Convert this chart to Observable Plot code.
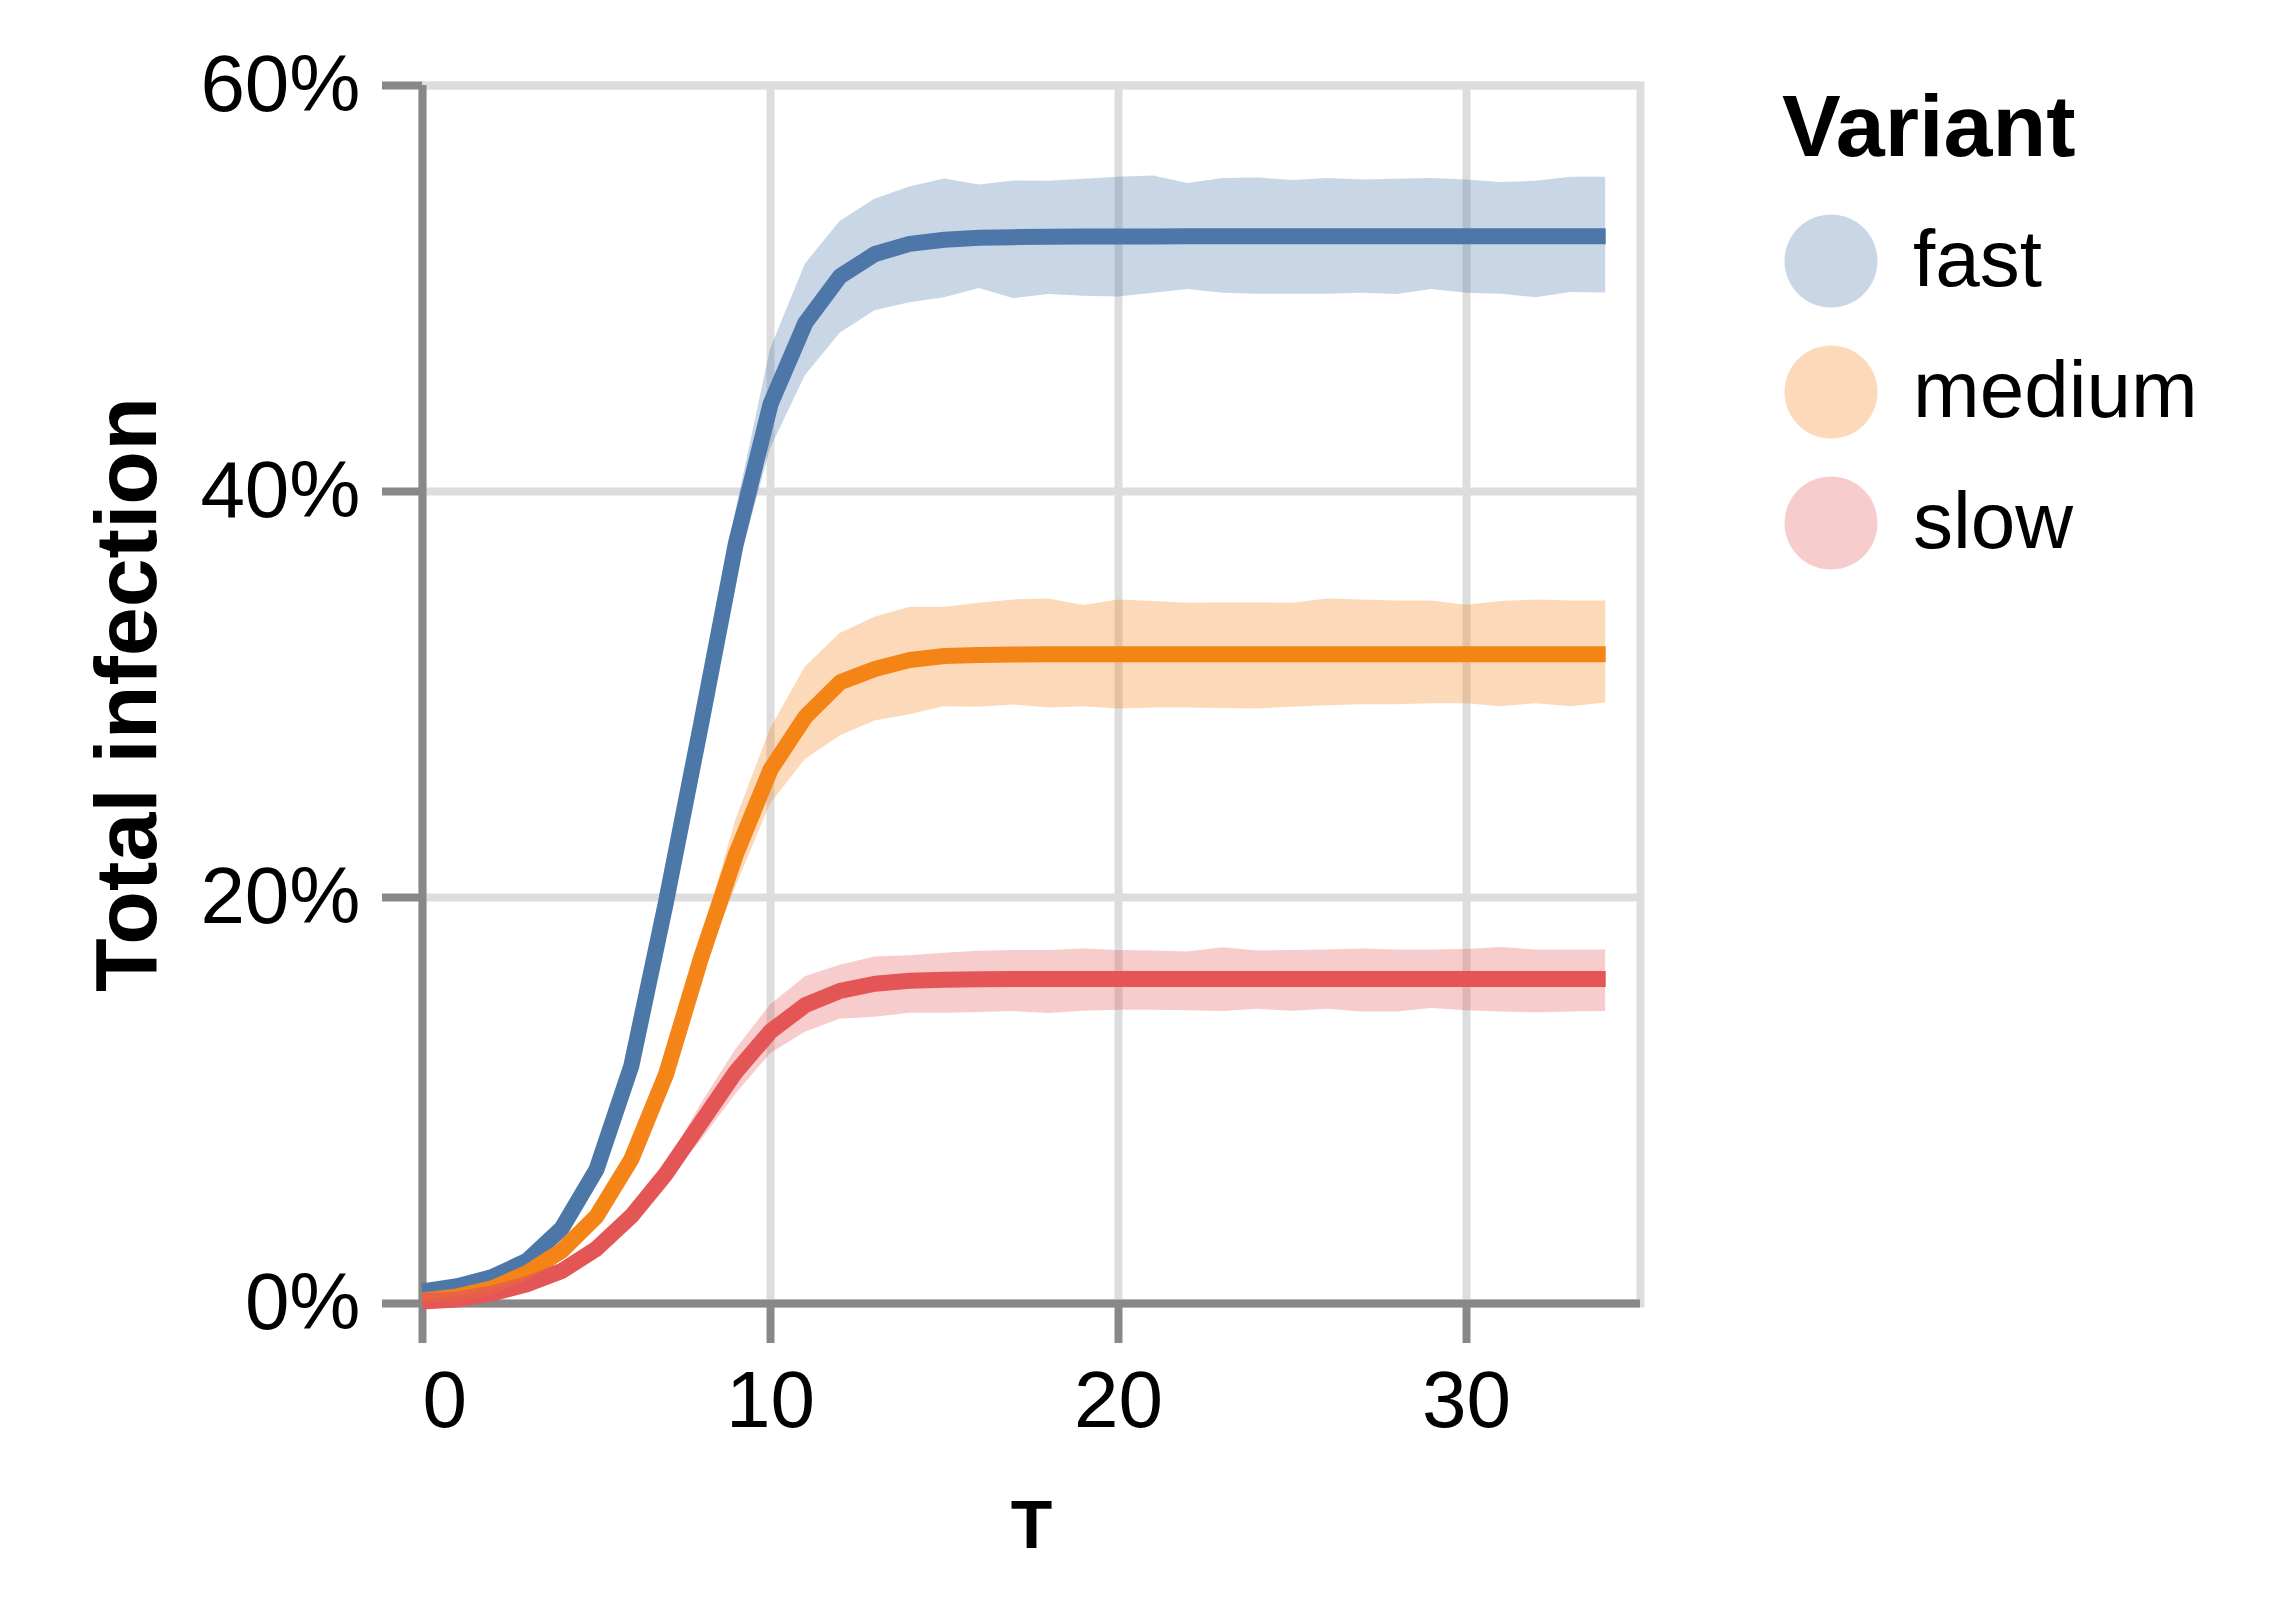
<!DOCTYPE html>
<html>
<head>
<meta charset="utf-8">
<script src="https://cdn.jsdelivr.net/npm/d3@7"></script>
<script src="https://cdn.jsdelivr.net/npm/@observablehq/plot@0.6"></script>
<style>
  html, body { margin: 0; padding: 0; background: #fff; }
  #wrap { position: relative; width: 2275px; height: 1600px; font-family: "Liberation Sans", Arial, sans-serif; }
</style>
</head>
<body>
<div id="wrap"></div>
<script>
// ---------- data ----------
const variants = ["fast", "medium", "slow"];
const colors = ["#4c78a8", "#f58518", "#e45756"];
const legendTitle = "Variant";
const xTitle = "T";
const yTitle = "Total infection";
const xTicks = [0, 10, 20, 30];
const yTicks = [0, 0.2, 0.4, 0.6];

const T = [0,1,2,3,4,5,6,7,8,9,10,11,12,13,14,15,16,17,18,19,20,21,22,23,24,25,26,27,28,29,30,31,32,33,34];

const fastMean = [0.006,0.0085,0.013,0.021,0.037,0.066,0.117,0.198,0.285,0.374,0.443,0.483,0.506,0.517,0.522,0.524,0.525,0.5253,0.5255,0.5256,0.5256,0.5256,0.5257,0.5257,0.5257,0.5257,0.5257,0.5257,0.5257,0.5257,0.5257,0.5257,0.5257,0.5257,0.5257];
const fastHi   = [0.0075,0.010,0.0145,0.023,0.039,0.069,0.121,0.202,0.290,0.390,0.470,0.512,0.533,0.544,0.550,0.554,0.551,0.553,0.5528,0.5538,0.5548,0.5554,0.5517,0.5542,0.5544,0.5532,0.5542,0.5534,0.5538,0.5542,0.5534,0.5522,0.5528,0.5548,0.5548];
const fastLo   = [0.0045,0.007,0.0115,0.019,0.035,0.063,0.113,0.194,0.280,0.358,0.421,0.457,0.478,0.489,0.493,0.4955,0.500,0.495,0.497,0.4962,0.4958,0.4976,0.4995,0.4976,0.4972,0.4972,0.4972,0.4976,0.4970,0.4995,0.4976,0.4972,0.4954,0.4980,0.4978];

const mediumMean = [0.0016,0.0035,0.0075,0.015,0.026,0.043,0.071,0.113,0.170,0.221,0.263,0.289,0.306,0.3126,0.317,0.319,0.3195,0.3197,0.3198,0.3198,0.3198,0.3198,0.3198,0.3198,0.3198,0.3198,0.3198,0.3198,0.3198,0.3198,0.3198,0.3198,0.3198,0.3198,0.3198];
const mediumHi   = [0.004,0.006,0.011,0.019,0.030,0.047,0.076,0.118,0.178,0.238,0.283,0.3136,0.330,0.338,0.343,0.343,0.345,0.3466,0.3471,0.3438,0.3465,0.3458,0.3450,0.3452,0.3452,0.3450,0.3471,0.3465,0.3461,0.3461,0.3440,0.3458,0.3465,0.3461,0.3461];
const mediumLo   = [0.000,0.001,0.004,0.011,0.022,0.039,0.066,0.108,0.162,0.205,0.246,0.268,0.2796,0.287,0.290,0.294,0.2937,0.2948,0.2933,0.2940,0.2929,0.2933,0.2933,0.2931,0.2929,0.2937,0.2944,0.2950,0.2950,0.2954,0.2954,0.2940,0.2954,0.2940,0.2958];

const slowMean = [0.001,0.002,0.005,0.0095,0.016,0.027,0.043,0.064,0.089,0.114,0.134,0.147,0.154,0.1575,0.159,0.1595,0.1597,0.1598,0.1598,0.1598,0.1598,0.1598,0.1598,0.1598,0.1598,0.1598,0.1598,0.1598,0.1598,0.1598,0.1598,0.1598,0.1598,0.1598,0.1598];
const slowHi   = [0.002,0.0035,0.007,0.012,0.019,0.031,0.048,0.068,0.098,0.125,0.147,0.161,0.1666,0.1707,0.1713,0.1725,0.1735,0.1739,0.1739,0.1746,0.1739,0.1737,0.1731,0.1752,0.1737,0.1739,0.1741,0.1746,0.1741,0.1741,0.1744,0.1754,0.1741,0.1741,0.1741];
const slowLo   = [0.000,0.0008,0.003,0.007,0.013,0.023,0.038,0.060,0.080,0.103,0.123,0.1336,0.140,0.141,0.143,0.143,0.1434,0.1438,0.1428,0.1440,0.1445,0.1445,0.1442,0.1438,0.1449,0.1440,0.1449,0.1436,0.1436,0.1453,0.1442,0.1436,0.1432,0.1436,0.1438];

// ---------- table ----------
const series = {
  fast:   {mean: fastMean,   hi: fastHi,   lo: fastLo},
  medium: {mean: mediumMean, hi: mediumHi, lo: mediumLo},
  slow:   {mean: slowMean,   hi: slowHi,   lo: slowLo}
};
const rows = [];
for (const v of variants) {
  T.forEach((t, i) => rows.push({T: t, variant: v, mean: series[v].mean[i], hi: series[v].hi[i], lo: series[v].lo[i]}));
}

const FONT = '"Liberation Sans", Arial, Helvetica, sans-serif';
const AXIS = "#888";
const GRID = "#ddd";
const pct = d3.format(".0%");

const chart = Plot.plot({
  width: 2275,
  height: 1600,
  marginLeft: 422,
  marginRight: 635,
  marginTop: 85,
  marginBottom: 297,
  style: {fontFamily: FONT, background: "white", color: "black"},
  x: {domain: [0, 35], axis: null, label: null},
  y: {domain: [0, 0.6], axis: null, label: null},
  color: {domain: variants, range: colors},
  marks: [
    Plot.gridX(xTicks, {stroke: GRID, strokeOpacity: 1, strokeWidth: 8}),
    Plot.gridY(yTicks, {stroke: GRID, strokeOpacity: 1, strokeWidth: 8}),
    Plot.frame({stroke: GRID, strokeWidth: 8}),
    Plot.axisX(xTicks, {tickSize: 40, stroke: AXIS, strokeWidth: 8, tickFormat: () => "", label: null}),
    Plot.axisY(yTicks, {tickSize: 40, stroke: AXIS, strokeWidth: 8, tickFormat: () => "", label: null}),
    Plot.ruleX([0], {stroke: AXIS, strokeWidth: 8}),
    Plot.ruleY([0], {stroke: AXIS, strokeWidth: 8}),
    // tick labels
    Plot.text(xTicks.slice(0, 1), {x: d => d, frameAnchor: "bottom", textAnchor: "start", lineAnchor: "bottom", dy: 123, fontSize: 80, text: d => String(d), fill: "black"}),
    Plot.text(xTicks.slice(1), {x: d => d, frameAnchor: "bottom", textAnchor: "middle", lineAnchor: "bottom", dy: 123, fontSize: 80, text: d => String(d), fill: "black"}),
    Plot.text(yTicks, {y: d => d, frameAnchor: "left", textAnchor: "end", lineAnchor: "middle", dx: -62, fontSize: 80, text: d => pct(d), fill: "black"}),
    // axis titles
    Plot.text([xTitle], {frameAnchor: "bottom", textAnchor: "middle", lineAnchor: "bottom", dy: 244, fontSize: 68, fontWeight: "bold", text: d => d, fill: "black"}),
    Plot.text([yTitle], {frameAnchor: "left", textAnchor: "middle", lineAnchor: "bottom", rotate: -90, dx: -267, fontSize: 88, fontWeight: "bold", text: d => d, fill: "black"}),
    // data
    Plot.line(rows, {x: "T", y: "mean", z: "variant", stroke: "variant", strokeWidth: 16, strokeLinecap: "butt", strokeLinejoin: "miter", curve: "linear"}),
    Plot.areaY(rows, {x: "T", y1: "lo", y2: "hi", z: "variant", fill: "variant", fillOpacity: 0.3, curve: "linear"})
  ]
});

const wrap = document.getElementById("wrap");
wrap.appendChild(chart);

// ---------- legend ----------
const leg = d3.create("svg")
  .attr("width", 2275).attr("height", 1600)
  .style("position", "absolute").style("left", "0px").style("top", "0px")
  .style("pointer-events", "none")
  .style("font-family", FONT);
leg.append("text")
  .attr("x", 1782).attr("y", 156)
  .attr("font-size", 88).attr("font-weight", "bold").attr("fill", "black")
  .text(legendTitle);
variants.forEach((v, i) => {
  const cy = 261 + i * 131;
  leg.append("circle").attr("cx", 1831).attr("cy", cy).attr("r", 46.5)
    .attr("fill", colors[i]).attr("fill-opacity", 0.3);
  leg.append("text").attr("x", 1913).attr("y", cy + 25)
    .attr("font-size", 80).attr("fill", "black").text(v);
});
wrap.appendChild(leg.node());
</script>
</body>
</html>
